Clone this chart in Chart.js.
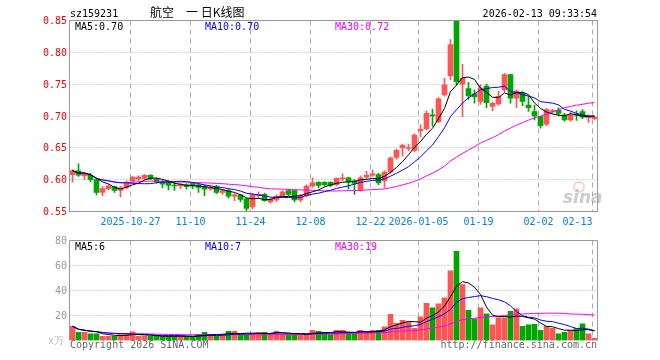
<!DOCTYPE html>
<html lang="zh">
<head>
    <meta charset="UTF-8">
    <title>航空 一 日K线图</title>
    <script src="https://cdn.jsdelivr.net/npm/chart.js"></script>
    <style>
        html, body { margin: 0; padding: 0; background: #fff; }
        #wrap { position: relative; width: 660px; height: 360px; }
        #kline { position: absolute; left: 0; top: 0; }
        #vol { position: absolute; left: 0; top: 230px; }
    </style>
</head>
<body>
    <div id="wrap">
        <canvas id="kline" width="660" height="230"></canvas>
        <canvas id="vol" width="660" height="130"></canvas>
    </div>
    <script>
        // trading days shown (MM-DD)
        const dates = [
            '10-13','10-14','10-15','10-16','10-17','10-20','10-21','10-22','10-23','10-24',
            '10-27','10-28','10-29','10-30','10-31','11-03','11-04','11-05','11-06','11-07',
            '11-10','11-11','11-12','11-13','11-14','11-17','11-18','11-19','11-20','11-21',
            '11-24','11-25','11-26','11-27','11-28','12-01','12-02','12-03','12-04','12-05',
            '12-08','12-09','12-10','12-11','12-12','12-15','12-16','12-17','12-18','12-19',
            '12-22','12-23','12-24','12-25','12-26','12-29','12-30','12-31',
            '01-05','01-06','01-07','01-08','01-09','01-12','01-13','01-14','01-15','01-16',
            '01-19','01-20','01-21','01-22','01-23','01-26','01-27','01-28','01-29','01-30',
            '02-02','02-03','02-04','02-05','02-06','02-09','02-10','02-11','02-12','02-13'
        ];
        const opens = [
            0.608,0.614,0.606,0.607,0.600,0.580,0.586,0.589,0.583,0.588,
            0.598,0.601,0.602,0.607,0.601,0.597,0.597,0.591,0.590,0.592,
            0.594,0.592,0.589,0.585,0.589,0.580,0.583,0.574,0.576,0.570,
            0.557,0.575,0.577,0.565,0.568,0.575,0.583,0.583,0.568,0.575,
            0.590,0.596,0.596,0.596,0.592,0.601,0.603,0.598,0.583,0.604,
            0.607,0.608,0.598,0.612,0.635,0.650,0.649,0.646,
            0.677,0.680,0.702,0.691,0.733,0.763,0.850,0.750,0.743,0.735,
            0.723,0.747,0.715,0.719,0.741,0.765,0.728,0.736,0.717,0.707,
            0.699,0.687,0.707,0.709,0.702,0.694,0.703,0.707,0.697,0.696
        ];
        const highs = [
            0.616,0.625,0.612,0.610,0.602,0.589,0.592,0.590,0.590,0.598,
            0.605,0.606,0.608,0.608,0.603,0.599,0.598,0.596,0.594,0.594,
            0.595,0.594,0.592,0.590,0.591,0.585,0.585,0.578,0.577,0.571,
            0.578,0.581,0.579,0.571,0.576,0.583,0.585,0.584,0.577,0.592,
            0.603,0.597,0.597,0.597,0.603,0.609,0.604,0.600,0.606,0.613,
            0.615,0.610,0.614,0.636,0.648,0.656,0.656,0.672,
            0.686,0.708,0.711,0.729,0.759,0.820,0.851,0.781,0.753,0.741,
            0.749,0.750,0.722,0.739,0.767,0.766,0.741,0.738,0.731,0.717,
            0.700,0.712,0.711,0.713,0.704,0.706,0.708,0.710,0.702,0.700
        ];
        const lows = [
            0.596,0.605,0.600,0.597,0.576,0.575,0.584,0.580,0.573,0.586,
            0.596,0.598,0.600,0.600,0.594,0.587,0.584,0.583,0.586,0.585,
            0.586,0.580,0.575,0.583,0.578,0.577,0.571,0.567,0.565,0.551,
            0.554,0.570,0.566,0.563,0.566,0.573,0.575,0.565,0.565,0.573,
            0.588,0.587,0.590,0.589,0.590,0.598,0.585,0.577,0.582,0.602,
            0.605,0.592,0.588,0.610,0.632,0.637,0.645,0.644,
            0.667,0.678,0.684,0.689,0.731,0.757,0.749,0.699,0.726,0.720,
            0.718,0.713,0.708,0.717,0.738,0.720,0.713,0.716,0.707,0.694,
            0.681,0.685,0.704,0.700,0.692,0.692,0.693,0.696,0.690,0.694
        ];
        const closes = [
            0.614,0.607,0.610,0.600,0.580,0.586,0.590,0.583,0.587,0.595,
            0.604,0.604,0.607,0.601,0.597,0.593,0.591,0.590,0.593,0.589,
            0.590,0.588,0.585,0.587,0.580,0.583,0.574,0.576,0.569,0.555,
            0.576,0.577,0.567,0.569,0.574,0.581,0.577,0.568,0.575,0.590,
            0.595,0.591,0.592,0.591,0.602,0.603,0.596,0.594,0.603,0.607,
            0.609,0.595,0.612,0.634,0.646,0.654,0.650,0.670,
            0.679,0.704,0.700,0.727,0.749,0.812,0.754,0.759,0.732,0.730,
            0.744,0.721,0.720,0.731,0.765,0.728,0.739,0.723,0.713,0.700,
            0.685,0.710,0.708,0.704,0.694,0.702,0.701,0.698,0.700,0.698
        ];
        // volume, 万手
        const volumes = [
            11.4,6.6,6.6,5.3,5.3,3.4,3.4,3.4,4.7,5.3,
            6.9,3.4,3.4,3.4,3.4,3.4,3.4,3.4,3.4,2.9,
            3.4,5.0,6.6,5.0,3.4,5.0,7.4,7.4,4.7,4.7,
            5.3,6.6,6.6,5.3,7.4,5.3,4.7,4.7,4.7,4.7,
            8.2,7.4,6.6,4.8,8.2,8.2,5.6,5.6,8.2,6.9,
            8.2,8.2,10.9,21.0,13.8,16.2,14.6,9.8,
            18.9,29.8,26.1,29.3,34.1,55.7,71.4,44.8,24.2,17.3,
            26.1,21.3,12.5,18.1,18.1,23.4,25.3,11.4,12.5,13.0,
            8.2,11.4,9.8,5.3,6.6,8.2,9.8,13.3,5.3,1.8
        ];

        const priceTicks = [0.55, 0.60, 0.65, 0.70, 0.75, 0.80, 0.85];
        const volTicks = [20, 40, 60, 80];
        const dateTicks = ['2025-10-27', '11-10', '11-24', '12-08', '12-22', '2026-01-05', '01-19', '02-02', '02-13'];
        const priceMaText = ['MA5:0.70', 'MA10:0.70', 'MA30:0.72'];
        const volMaText = ['MA5:6', 'MA10:7', 'MA30:19'];

        const UP = '#ff5555';
        const DOWN = '#00a600';
        const MA_COLORS = ['#000', '#00f', '#f0f'];
        const MONO = '10px "DejaVu Sans Mono", monospace';

        const candleColors = closes.map((c, i) => c >= opens[i] ? UP : DOWN);

        // moving average; at the left edge it uses whatever days are available
        function ma(arr, n) {
            return arr.map((_, i) => {
                const part = arr.slice(Math.max(0, i - n + 1), i + 1);
                return part.reduce((s, v) => s + v, 0) / part.length;
            });
        }

        function maLines(src) {
            return [5, 10, 30].map((n, k) => ({
                type: 'line',
                label: 'MA' + n,
                data: ma(src, n),
                borderColor: MA_COLORS[k],
                borderWidth: 1,
                pointRadius: 0,
                tension: 0,
                order: 1
            }));
        }

        function hline(ctx, x1, x2, y) {
            ctx.beginPath(); ctx.moveTo(x1, y); ctx.lineTo(x2, y); ctx.stroke();
        }
        function vline(ctx, x, y1, y2) {
            ctx.beginPath(); ctx.moveTo(x, y1); ctx.lineTo(x, y2); ctx.stroke();
        }
        function crisp(v) { return Math.round(v - 0.5) + 0.5; }

        // x of the dashed line: left edge of the tick's day
        function dateX(chart, label) {
            const a = chart.chartArea;
            const w = (a.right - a.left) / dates.length;
            const i = dates.indexOf(label.slice(-5));
            return Math.round(chart.scales.x.getPixelForValue(i) - w / 2) + 0.5;
        }

        function drawGrid(chart, ticks) {
            const { ctx, chartArea: a, scales: { y } } = chart;
            ctx.save();
            ctx.strokeStyle = '#aaa';
            ctx.lineWidth = 1;
            ctx.setLineDash([1, 2]);
            ticks.forEach(v => {
                if (v <= y.min || v >= y.max) return;
                hline(ctx, a.left, a.right, crisp(y.getPixelForValue(v)));
            });
            ctx.setLineDash([5, 4]);
            dateTicks.forEach(t => vline(ctx, dateX(chart, t), a.top, a.bottom));
            ctx.restore();
        }

        function drawMaText(ctx, texts, y) {
            ctx.font = MONO;
            ctx.textAlign = 'left';
            ctx.textBaseline = 'alphabetic';
            [75, 205, 335].forEach((x, k) => {
                ctx.fillStyle = MA_COLORS[k];
                ctx.fillText(texts[k], x, y);
            });
        }

        const klineDecor = {
            id: 'klineDecor',
            beforeDatasetsDraw(chart) {
                drawGrid(chart, priceTicks);
            },
            afterDatasetsDraw(chart) {
                const { ctx, chartArea: a, scales: { y } } = chart;
                ctx.save();
                // frame
                ctx.strokeStyle = '#999';
                ctx.lineWidth = 1;
                ctx.strokeRect(a.left, a.top, a.right - a.left, a.bottom - a.top);

                // price labels
                ctx.font = MONO;
                ctx.fillStyle = '#f00';
                ctx.textAlign = 'right';
                ctx.textBaseline = 'middle';
                priceTicks.forEach(v => ctx.fillText(v.toFixed(2), 67, y.getPixelForValue(v) + 1));

                // date labels, the last one kept inside the frame
                ctx.fillStyle = '#0a80d8';
                ctx.textBaseline = 'alphabetic';
                dateTicks.forEach((t, k) => {
                    ctx.textAlign = k === dateTicks.length - 1 ? 'right' : 'center';
                    ctx.fillText(t, dateX(chart, t), 225);
                });

                // header
                ctx.fillStyle = '#000';
                ctx.textAlign = 'left';
                ctx.fillText('sz159231', 70, 16.5);
                ctx.textAlign = 'right';
                ctx.fillText('2026-02-13 09:33:54', 597, 16.5);
                ctx.textAlign = 'left';
                ctx.font = '12px "Noto Sans CJK SC"';
                ctx.fillText('航空　一 日K线图', 150, 17);

                drawMaText(ctx, priceMaText, 30);

                // sina watermark
                ctx.strokeStyle = 'rgba(230,120,120,0.35)';
                ctx.lineWidth = 2;
                ctx.beginPath(); ctx.arc(579, 187, 5, 0, Math.PI * 2); ctx.stroke();
                ctx.fillStyle = 'rgba(160,160,160,0.55)';
                ctx.font = 'italic bold 17px "DejaVu Sans"';
                ctx.fillText('sina', 563, 203);
                ctx.restore();
            }
        };

        const volDecor = {
            id: 'volDecor',
            beforeDatasetsDraw(chart) {
                drawGrid(chart, volTicks);
            },
            afterDatasetsDraw(chart) {
                const { ctx, chartArea: a, scales: { y } } = chart;
                ctx.save();
                ctx.strokeStyle = '#999';
                ctx.lineWidth = 1;
                hline(ctx, a.left, a.right, a.top);
                vline(ctx, a.left, a.top, a.bottom);
                vline(ctx, a.right, a.top, a.bottom);

                ctx.font = MONO;
                ctx.fillStyle = '#999';
                ctx.textAlign = 'right';
                ctx.textBaseline = 'middle';
                volTicks.forEach(v => ctx.fillText(String(v), 67, y.getPixelForValue(v) + 1));
                ctx.textBaseline = 'alphabetic';
                ctx.fillStyle = '#bbb';
                ctx.fillText('x万', 64, 114);

                drawMaText(ctx, volMaText, 20);

                ctx.fillStyle = '#666';
                ctx.textAlign = 'left';
                ctx.fillText('Copyright 2026 SINA.COM', 70, 118);
                ctx.textAlign = 'right';
                ctx.fillText('http://finance.sina.com.cn', 597, 118);
                ctx.restore();
            }
        };

        const baseOptions = (min, max, top, bottom) => ({
            responsive: false,
            animation: false,
            events: [],
            layout: { padding: { left: 69.5, right: 62.5, top: top, bottom: bottom } },
            plugins: { legend: { display: false }, tooltip: { enabled: false } },
            scales: {
                x: { display: false, offset: true },
                y: { display: false, min: min, max: max }
            }
        });

        // K line
        new Chart(document.getElementById('kline'), {
            type: 'bar',
            data: {
                labels: dates,
                datasets: [
                    ...maLines(closes),
                    {
                        label: 'body',
                        data: opens.map((o, i) => [o, closes[i]]),
                        backgroundColor: candleColors,
                        barThickness: 5,
                        minBarLength: 1,
                        grouped: false,
                        order: 2
                    },
                    {
                        label: 'wick',
                        data: lows.map((l, i) => [l, highs[i]]),
                        backgroundColor: candleColors,
                        barThickness: 1,
                        grouped: false,
                        order: 3
                    }
                ]
            },
            options: baseOptions(0.55, 0.85, 20.5, 18.5),
            plugins: [klineDecor]
        });

        // volume
        new Chart(document.getElementById('vol'), {
            type: 'bar',
            data: {
                labels: dates,
                datasets: [
                    ...maLines(volumes),
                    {
                        label: 'volume',
                        data: volumes,
                        backgroundColor: candleColors,
                        barThickness: 5,
                        grouped: false,
                        order: 2
                    }
                ]
            },
            options: baseOptions(0, 80, 10.5, 19.5),
            plugins: [volDecor]
        });
    </script>
</body>
</html>
